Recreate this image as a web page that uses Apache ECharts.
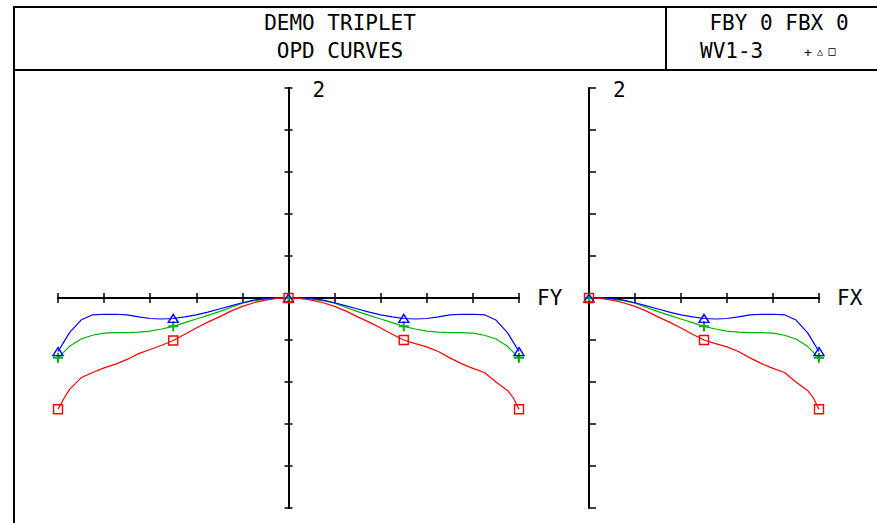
<!DOCTYPE html>
<html><head><meta charset="utf-8">
<script src="https://cdn.jsdelivr.net/npm/echarts@6/dist/echarts.min.js"></script>
<style>html,body{margin:0;padding:0;background:#fff}#c{width:877px;height:523px}</style>
</head><body><div id="c"></div><script>
// ---- data ----
const TITLE_LINES = ['DEMO TRIPLET', 'OPD CURVES'];
const INFO_LINES = ['FBY 0 FBX 0', 'WV1-3'];
const LEGEND_MARKS = ['+', '\u25B3', '\u25A1'];
const AXIS_NAMES = ['FY', 'FX'];
const Y_MAX_LABEL = '2';
const MARKER_PUPIL = [-1, -0.5, 0, 0.5, 1];

// Tangential fan (FY), pupil -1..1
const PY = [-1,-0.975,-0.95,-0.9,-0.85,-0.8,-0.75,-0.7,-0.65,-0.6,-0.55,-0.5,-0.45,-0.4,-0.35,-0.3,-0.25,-0.2,-0.15,-0.1,-0.05,0,
            0.05,0.1,0.15,0.2,0.25,0.3,0.35,0.4,0.45,0.5,0.55,0.6,0.65,0.7,0.75,0.8,0.85,0.9,0.95,0.975,1];
const FY_WV1 = [-0.57,-0.515,-0.46,-0.39,-0.355,-0.335,-0.33,-0.33,-0.325,-0.315,-0.295,-0.27,-0.235,-0.2,-0.165,-0.13,-0.09,-0.05,-0.025,-0.01,0,0,
                0,-0.01,-0.025,-0.05,-0.09,-0.13,-0.165,-0.2,-0.235,-0.27,-0.295,-0.315,-0.325,-0.33,-0.33,-0.335,-0.355,-0.39,-0.46,-0.515,-0.57];
const FY_WV2 = [-0.51,-0.42,-0.33,-0.21,-0.16,-0.155,-0.155,-0.16,-0.18,-0.195,-0.2,-0.195,-0.18,-0.16,-0.135,-0.105,-0.075,-0.045,-0.02,-0.005,0,0,
                0,-0.005,-0.02,-0.045,-0.075,-0.105,-0.135,-0.16,-0.18,-0.195,-0.2,-0.195,-0.18,-0.16,-0.155,-0.155,-0.16,-0.21,-0.33,-0.42,-0.51];
const FY_WV3 = [-1.06,-0.96,-0.87,-0.76,-0.71,-0.665,-0.63,-0.585,-0.53,-0.49,-0.45,-0.405,-0.345,-0.285,-0.23,-0.18,-0.125,-0.08,-0.045,-0.02,-0.005,0,
                -0.005,-0.02,-0.045,-0.08,-0.125,-0.18,-0.23,-0.285,-0.345,-0.4,-0.435,-0.465,-0.51,-0.57,-0.625,-0.67,-0.71,-0.8,-0.88,-0.95,-1.06];

// Sagittal fan (FX), pupil 0..1
const PX = [0,0.05,0.1,0.15,0.2,0.25,0.3,0.35,0.4,0.45,0.5,0.55,0.6,0.65,0.7,0.75,0.8,0.85,0.9,0.95,0.975,1];
const FX_WV1 = [0,0,-0.01,-0.025,-0.05,-0.09,-0.13,-0.165,-0.2,-0.235,-0.27,-0.295,-0.315,-0.325,-0.33,-0.33,-0.335,-0.355,-0.39,-0.46,-0.515,-0.57];
const FX_WV2 = [0,0,-0.005,-0.02,-0.045,-0.075,-0.105,-0.135,-0.16,-0.18,-0.195,-0.2,-0.195,-0.18,-0.16,-0.155,-0.155,-0.16,-0.21,-0.33,-0.42,-0.51];
const FX_WV3 = [0,-0.005,-0.02,-0.045,-0.08,-0.125,-0.18,-0.23,-0.285,-0.345,-0.4,-0.435,-0.465,-0.51,-0.57,-0.625,-0.67,-0.71,-0.8,-0.88,-0.95,-1.06];

// ---- styling ----
const FONT = '"DejaVu Sans Mono", "Liberation Mono", monospace';
const FS = 21;
const COLORS = { wv1: '#00b400', wv2: '#0000ff', wv3: '#ff0000' };
const PLUS = 'path://M4,0H6V10H4ZM0,4H10V6H0Z';

function pairs(xs, ys) { return xs.map((x, i) => [x, ys[i]]); }
function isMarker(v) { return MARKER_PUPIL.some(m => Math.abs(m - v[0]) < 1e-9); }

function makeSeries(xIdx, yIdx, xs, ys, color, sym, size, hollow) {
  return {
    type: 'line', xAxisIndex: xIdx, yAxisIndex: yIdx,
    data: pairs(xs, ys),
    showAllSymbol: true,
    symbol: v => isMarker(v) ? sym : 'none',
    symbolSize: size,
    lineStyle: { color: color, width: 1.2 },
    itemStyle: hollow ? { color: 'transparent', borderColor: color, borderWidth: 1.4 } : { color: color, borderWidth: 0 },
    silent: true, clip: false
  };
}

const axisLineStyle = { color: '#000', width: 2 };

function xAx(grid, min, yIdx, inside, name) {
  return {
    type: 'value', gridIndex: grid, min: min, max: 1, interval: 0.2, position: 'bottom',
    axisLine: { show: true, onZero: true, onZeroAxisIndex: yIdx, lineStyle: axisLineStyle },
    axisTick: { show: true, inside: inside, length: 5, lineStyle: { color: '#000', width: 1.5 } },
    axisLabel: { show: false }, splitLine: { show: false },
    name: name || '', nameLocation: 'end', nameGap: 18,
    nameTextStyle: { fontFamily: FONT, fontSize: FS, color: '#000', verticalAlign: 'middle' }
  };
}
function yAx(grid, xIdx, inside, len, name) {
  return {
    type: 'value', gridIndex: grid, min: -2, max: 2, interval: 0.4, position: 'left',
    axisLine: { show: true, onZero: true, onZeroAxisIndex: xIdx, lineStyle: axisLineStyle },
    axisTick: { show: true, inside: inside, length: len, lineStyle: { color: '#000', width: 1.5 } },
    axisLabel: { show: false }, splitLine: { show: false },
    name: name || '', nameLocation: 'end', nameGap: -2,
    nameTextStyle: { fontFamily: FONT, fontSize: FS, color: '#000', align: 'left', verticalAlign: 'middle', padding: [0, 0, 0, 24] }
  };
}

function txt(x, y, s, align, size) {
  return { type: 'text', x: x, y: y, style: { text: s, fontFamily: FONT, fontSize: size || FS, fill: '#000', align: align, verticalAlign: 'middle' } };
}

const chart = echarts.init(document.getElementById('c'), null, { renderer: 'svg' });
chart.setOption({
  animation: false,
  backgroundColor: '#fff',
  grid: [
    { left: 58, top: 88, width: 461, height: 420 },
    { left: 589, top: 88, width: 230, height: 420 }
  ],
  xAxis: [
    xAx(0, -1, 0, true, AXIS_NAMES[0]),
    xAx(0, -1, 0, false),
    xAx(1, 0, 2, true, AXIS_NAMES[1]),
    xAx(1, 0, 2, false)
  ],
  yAxis: [
    yAx(0, 0, true, 4, Y_MAX_LABEL),
    yAx(0, 0, false, 4),
    yAx(1, 2, true, 7, Y_MAX_LABEL)
  ],
  series: [
    makeSeries(0, 0, PY, FY_WV1, COLORS.wv1, PLUS, 10, false),
    makeSeries(0, 0, PY, FY_WV2, COLORS.wv2, 'triangle', [10, 8], true),
    makeSeries(0, 0, PY, FY_WV3, COLORS.wv3, 'rect', 9, true),
    makeSeries(2, 2, PX, FX_WV1, COLORS.wv1, PLUS, 10, false),
    makeSeries(2, 2, PX, FX_WV2, COLORS.wv2, 'triangle', [10, 8], true),
    makeSeries(2, 2, PX, FX_WV3, COLORS.wv3, 'rect', 9, true)
  ],
  graphic: [
    { type: 'line', shape: { x1: 14, y1: 7, x2: 877, y2: 7 }, style: { stroke: '#000', lineWidth: 2 } },
    { type: 'line', shape: { x1: 14, y1: 6, x2: 14, y2: 523 }, style: { stroke: '#000', lineWidth: 2 } },
    { type: 'line', shape: { x1: 14, y1: 70, x2: 877, y2: 70 }, style: { stroke: '#000', lineWidth: 2 } },
    { type: 'line', shape: { x1: 666, y1: 7, x2: 666, y2: 70 }, style: { stroke: '#000', lineWidth: 2 } },
    txt(340, 23, TITLE_LINES[0], 'center'),
    txt(340, 51, TITLE_LINES[1], 'center'),
    txt(779, 23, INFO_LINES[0], 'center'),
    txt(700, 51, INFO_LINES[1], 'left'),
    txt(808, 52, LEGEND_MARKS[0], 'center', 13),
    txt(820, 51, LEGEND_MARKS[1], 'center', 10),
    txt(832, 51, LEGEND_MARKS[2], 'center', 12)
  ]
});
</script></body></html>
